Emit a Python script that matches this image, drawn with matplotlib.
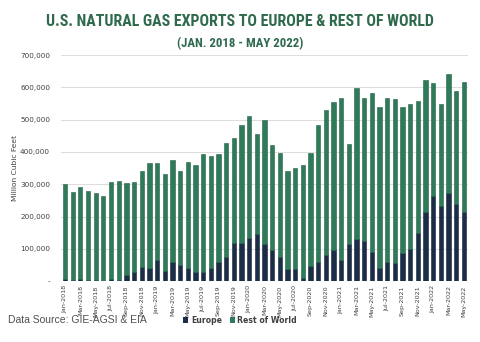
import matplotlib
matplotlib.use("Agg")
import matplotlib.pyplot as plt
import numpy as np
from matplotlib.ticker import FuncFormatter
from matplotlib.patches import Patch
from matplotlib import font_manager as fm

months = ["Jan", "Feb", "Mar", "Apr", "May", "Jun", "Jul", "Aug", "Sep", "Oct", "Nov", "Dec"]
labels = [f"{m}-{y}" for y in range(2018, 2023) for m in months][:53]

total = [300, 277, 293, 280, 274, 264, 306, 311, 303, 307, 341, 366,
         366, 332, 376, 340, 370, 361, 395, 386, 395, 427, 444, 483,
         511, 455, 500, 422, 397, 340, 350, 360, 397, 482, 530, 556,
         566, 426, 597, 566, 582, 540, 568, 565, 538, 547, 559, 623,
         613, 548, 641, 588, 616]
europe = [8, 3, 6, 5, 2, 1, 6, 2, 19, 28, 45, 42,
          65, 31, 60, 51, 42, 28, 28, 42, 60, 75, 119, 119,
          132, 147, 114, 96, 75, 38, 37, 10, 47, 59, 81, 97,
          64, 114, 130, 123, 91, 42, 59, 56, 87, 101, 150, 215,
          264, 233, 274, 240, 214]

europe = np.array(europe) * 1000
total = np.array(total) * 1000
rest = total - europe

eu_color = "#1c2e47"
row_color = "#2e7b5a"
title_color = "#2f6a4d"

# pick a condensed font for the title if one exists
names = {f.name for f in fm.fontManager.ttflist}
title_kw = None
for cand in ["Liberation Sans Narrow", "DejaVu Sans Condensed", "Roboto Condensed",
             "Open Sans Condensed", "Noto Sans Condensed"]:
    if cand in names:
        title_kw = dict(family=cand, fontsize=13.5 * 0.85, fontweight="bold")
        break
if title_kw is None:
    cond = [f for f in fm.fontManager.ttflist
            if f.name == "DejaVu Sans" and str(f.stretch) in ("condensed", "semi-condensed", "600", "500")]
    if cond:
        title_kw = dict(family="DejaVu Sans", fontstretch="condensed", fontsize=12 * 0.85, fontweight="bold")
    else:
        title_kw = dict(family="Liberation Sans", fontsize=10.5 * 0.85, fontweight="bold")

fig = plt.figure(figsize=(4.8, 3.42), dpi=100)
ax = fig.add_axes([0.1275, 0.178, 0.847, 0.661])

x = np.arange(len(labels))
w = 0.55
ax.bar(x, europe, width=w, color=eu_color, edgecolor="#152338", linewidth=0.4, zorder=3)
ax.bar(x, rest, width=w, bottom=europe, color=row_color, edgecolor="#245f45", linewidth=0.4, zorder=3)

ax.set_xlim(-0.5, len(labels) - 0.5)
ax.set_ylim(0, 700000)
ax.set_yticks(np.arange(0, 700001, 100000))
ax.yaxis.set_major_formatter(FuncFormatter(lambda v, p: "-" if v == 0 else f"{int(v):,}"))
ax.grid(axis="y", color="#dedede", linewidth=0.8, zorder=0)
for s in ax.spines.values():
    s.set_visible(False)
ax.tick_params(axis="both", length=0, colors="#404040")
ax.tick_params(axis="y", labelsize=5.2, pad=8)
ax.set_xticks(x[::2])
ax.set_xticklabels(labels[::2], rotation=90, fontsize=4.6)
ax.tick_params(axis="x", pad=3)
ax.set_ylabel("Million Cubic Feet", fontsize=5.4, color="#404040")
ax.yaxis.set_label_coords(-0.106, 0.5)

fig.text(0.5, 0.937, "U.S. NATURAL GAS EXPORTS TO EUROPE & REST OF WORLD",
         ha="center", va="center", color=title_color, **title_kw)
sub_kw = dict(title_kw)
sub_kw["fontsize"] = title_kw["fontsize"] * 0.8
fig.text(0.5, 0.872, "(JAN. 2018 - MAY 2022)",
         ha="center", va="center", color=title_color, **sub_kw)

fig.text(0.017, 0.064, "Data Source: GIE-AGSI & EIA", ha="left", va="center",
         fontsize=7.5, color="#505050", family="Liberation Sans")

handles = [Patch(facecolor=eu_color, label="Europe"), Patch(facecolor=row_color, label="Rest of World")]
fig.legend(handles=handles, loc="center", bbox_to_anchor=(0.5, 0.064), ncol=2, frameon=False,
           handlelength=0.7, handleheight=0.7, handletextpad=0.3, columnspacing=1.0,
           prop={"size": 5.6, "weight": "bold"}, labelcolor="#404040")

fig.savefig("out.png", dpi=100)
